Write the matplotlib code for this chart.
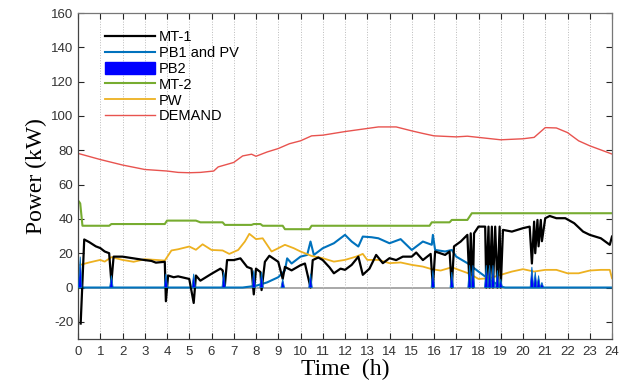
import matplotlib
matplotlib.use("Agg")
import matplotlib.pyplot as plt
import matplotlib.patches as mpatches

# ---------------- data ----------------
demand_t = [0.05, 1, 2, 3, 4, 4.5, 5, 5.5, 6.1, 6.3, 7, 7.4, 7.8, 8, 8.5, 9, 9.5, 10, 10.5, 11, 12, 13,
            13.5, 14.3, 15, 15.5, 16, 17, 17.5, 18, 19, 20, 20.5, 21, 21.5, 22, 22.5, 23, 24]
demand_v = [78, 74.6, 71.4, 68.8, 67.9, 67.1, 66.9, 67.1, 67.9, 70.3, 72.9, 76.7, 77.7, 76.5, 79, 81,
            83.8, 85.5, 88.4, 88.8, 90.9, 92.7, 93.6, 93.6, 91.3, 89.8, 88.4, 87.8, 88.2, 87.5, 86.1,
            86.7, 87.5, 93.2, 93, 90.3, 85.5, 82.6, 77.8]

mt2_t = [0.05, 0.1, 0.2, 1.4, 1.5, 3.9, 4.0, 5.3, 5.5, 6.5, 6.6, 7.8, 7.9, 8.2, 8.3, 9.2, 9.3, 10.4,
         10.5, 15.8, 15.9, 16.7, 16.8, 17.5, 17.7, 24]
mt2_v = [50, 49, 36, 36, 37, 37, 39, 39, 38, 38, 36.5, 36.5, 37, 37, 36, 36, 34, 34,
         36, 36, 38, 38, 39.4, 39.4, 43.3, 43.3]

pw_t = [0.1, 0.5, 1, 1.2, 1.5, 2, 2.5, 3, 3.5, 3.9, 4.2, 4.5, 5, 5.3, 5.6, 6, 6.5, 6.8, 7.2, 7.5, 7.7,
        8.0, 8.3, 8.7, 9, 9.3, 9.7, 10, 10.5, 11, 11.5, 12, 12.5, 12.8, 13, 13.5, 14, 14.5, 15, 15.5,
        15.9, 16.3, 16.8, 17.2, 17.6, 18, 18.5, 19, 19.5, 20, 20.5, 21, 21.5, 22, 22.5, 23, 23.5, 23.9, 24]
pw_v = [13.2, 14.6, 16.1, 15.1, 17.7, 16.1, 15, 16.5, 16.1, 15.7, 21.6, 22.3, 23.9, 22, 25.2, 21.9,
        21.6, 19.6, 21.9, 26.8, 31.3, 28.2, 28.7, 21, 22.9, 24.9, 22.9, 21, 18.4, 17.1, 15.1, 16.1,
        18, 19.6, 16.1, 16.1, 14.2, 14.6, 13.2, 12.2, 10.7, 9.9, 11.8, 9.9, 8, 5, 5.4, 7.4, 9.3,
        10.7, 9.3, 10.3, 10.3, 8.3, 8.3, 9.9, 10.3, 10.3, 5.4]

pb1_t = [0.05, 7.4, 8, 8.5, 9, 9.3, 9.4, 9.6, 10, 10.3, 10.45, 10.6, 11, 11.5, 12, 12.3, 12.6, 12.8,
         13.2, 13.5, 14, 14.5, 15, 15.5, 15.9, 15.95, 16.05, 16.5, 16.8, 17, 17.5, 18, 18.5, 19, 19.2, 24]
pb1_v = [0, 0, 1, 3, 6, 10, 17, 14, 18, 19, 26.8, 19, 22.9, 25.8, 30.7, 26.8, 23.9, 29.7,
         29.3, 28.7, 25.8, 28.2, 21.9, 26.8, 24.9, 30.7, 21.9, 21, 21.9, 18, 14.2, 9.3, 4.5, 0.6, 0, 0]

pb2_t = [0.1, 1.5, 3.95, 5.2, 6.55, 7.9, 8.25, 9.2, 10.45, 15.95, 16.8, 17.6, 17.75, 18.35, 18.5,
         18.65, 18.85, 19.0, 20.4, 20.55, 20.7, 20.85]
pb2_v = [18, 7, 8, 8, 9, 10, 9, 5, 8, 10, 9, 13, 13, 13, 13, 13, 10, 5, 12, 9, 7, 3]

mt1_t = [0.12, 0.28, 0.5, 0.8, 1.0, 1.2, 1.4, 1.5, 1.6, 2, 2.5, 3, 3.3, 3.5, 3.9, 3.95, 4.05, 4.3,
         4.5, 5, 5.2, 5.3, 5.5, 6, 6.4, 6.5, 6.6, 6.7, 7, 7.3, 7.6, 7.8, 7.9, 8.0, 8.2, 8.25, 8.4,
         8.6, 9, 9.2, 9.3, 9.6, 10, 10.2, 10.45, 10.55, 10.8, 11, 11.3, 11.5, 11.8, 12, 12.3, 12.6,
         12.8, 13.1, 13.4, 13.7, 14, 14.3, 14.6, 15, 15.2, 15.5, 15.85, 15.95, 16.05, 16.5, 16.7,
         16.8, 16.9, 17.2, 17.5, 17.6, 17.65, 17.75, 17.8, 18, 18.3, 18.35, 18.45, 18.5, 18.6,
         18.65, 18.75, 18.85, 18.95, 19.0, 19.1, 19.5, 20, 20.3, 20.4, 20.5, 20.55, 20.65, 20.7,
         20.8, 20.85, 21, 21.2, 21.5, 21.9, 22.3, 22.7, 23, 23.5, 23.9, 24]
mt1_v = [-21, 28, 26.5, 24, 23, 21, 20, 3, 18, 18, 17, 16, 15.5, 14.5, 15, -8, 7, 6,
         6.5, 5, -9, 7, 4, 8, 11, 10, 1, 16, 16, 17, 12, 11, -4, 11, 9, -1.5, 15,
         18.5, 15, 5, 12, 10, 13, 14, 0, 16, 17.5, 16, 11.8, 8.3, 11, 10.3, 13.2, 18,
         7.4, 11, 19, 14.2, 17.1, 16, 18, 18, 20.4, 16, 19.6, 0, 21, 19, 21,
         0, 24, 26.8, 30.7, 0, 31.6, 0, 31.6, 35.5, 35.5, 0, 35.5, 0, 35.5,
         0, 35.5, 0, 35.5, 0, 33.6, 32.6, 34.6, 35.5, 14, 38.4, 20, 39.4, 24,
         39.4, 27, 40.4, 41.7, 40.4, 40.4, 37.5, 32.6, 30.7, 28.7, 24.9, 29.7]

x_ticks = list(range(0, 25))
y_ticks = list(range(-20, 161, 20))
series_names = ["MT-1", "PB1 and PV", "PB2", "MT-2", "PW", "DEMAND"]

# ---------------- styling ----------------
C_MT1 = "#000000"
C_PB1 = "#0072BD"
C_PB2 = "#0000FF"
C_MT2 = "#77AC30"
C_PW = "#EDB120"
C_DEM = "#E8534F"

plt.rcParams["font.family"] = ["Liberation Sans", "DejaVu Sans"]
plt.rcParams["axes.unicode_minus"] = False

fig = plt.figure(figsize=(6.32, 3.90), dpi=100)
ax = fig.add_axes([78 / 632, 51 / 390, 534 / 632, 326 / 390])

ax.axhline(0, color="#999999", lw=1.2, zorder=1)

l_mt1, = ax.plot(mt1_t, mt1_v, color=C_MT1, lw=1.6, zorder=4)
l_pb1, = ax.plot(pb1_t, pb1_v, color=C_PB1, lw=1.5, zorder=2)
l_mt2, = ax.plot(mt2_t, mt2_v, color=C_MT2, lw=1.5, zorder=2)
l_pw, = ax.plot(pw_t, pw_v, color=C_PW, lw=1.3, zorder=2)
l_dem, = ax.plot(demand_t, demand_v, color=C_DEM, lw=1.0, zorder=2)

# PB2 spikes (narrow filled triangles)
half_w = 0.08
for tc, hv in zip(pb2_t, pb2_v):
    ax.fill([tc - half_w, tc, tc + half_w], [0, hv, 0], facecolor=C_PB2, edgecolor=C_PB1,
            lw=0.6, zorder=5)

pb2_handle = mpatches.Patch(facecolor=C_PB2, edgecolor=C_PB2)

ax.set_xlim(0, 24)
ax.set_ylim(-30, 160)
ax.set_xticks(x_ticks)
ax.set_yticks(y_ticks)
ax.tick_params(direction="in", top=True, right=True, length=4, width=0.8,
               colors="#262626", labelsize=9.5, labelcolor="#333333")
ax.tick_params(axis="x", pad=5)
ax.grid(axis="x", color="#bbbbbb", linestyle=":", lw=0.7)
for s in ax.spines.values():
    s.set_color("#444444")
    s.set_linewidth(0.9)
for s in ["top", "right"]:
    ax.spines[s].set_color("#777777")

ax.set_xlabel("Time  (h)", family=["Liberation Serif"], fontsize=17, labelpad=1)
ax.set_ylabel("Power (kW)", family=["Liberation Serif"], fontsize=17, labelpad=3)

leg = ax.legend([l_mt1, l_pb1, pb2_handle, l_mt2, l_pw, l_dem], series_names,
                loc="upper left", bbox_to_anchor=(0.04, 0.965), frameon=False,
                handlelength=3.4, handleheight=0.9, labelspacing=0.12, handletextpad=0.3,
                fontsize=10.5, borderaxespad=0)

fig.savefig("out.png", dpi=100)
